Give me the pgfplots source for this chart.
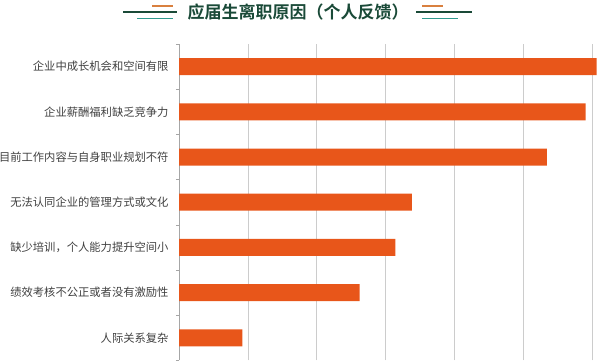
\documentclass[border=0pt]{standalone}
\usepackage{pgfplots}
\pgfplotsset{compat=1.18}
\usepackage{fontspec}
\newfontfamily\cjk{Noto Sans CJK SC}[BoldFont={Noto Sans CJK SC Bold}]
\definecolor{barc}{HTML}{E8561A}
\definecolor{tgreen}{HTML}{1A4A38}
\definecolor{torange}{HTML}{D9803F}
\definecolor{tteal}{HTML}{2E9A8E}
\begin{document}
\begin{tikzpicture}
\useasboundingbox (0,0) rectangle (600bp,-362bp);
% title
\node[font=\cjk\bfseries\fontsize{17bp}{19bp}\selectfont, text=tgreen, inner sep=0pt] at (298bp,-12bp) {应届生离职原因（个人反馈）};
\draw[tgreen, line width=1.6bp] (123bp,-12bp) -- (177bp,-12bp);
\draw[torange, line width=1.3bp] (152bp,-6bp) -- (173bp,-6bp);
\draw[tteal, line width=1.3bp] (137bp,-18.5bp) -- (173bp,-18.5bp);
\draw[tgreen, line width=1.6bp] (416bp,-12bp) -- (472bp,-12bp);
\draw[torange, line width=1.3bp] (422bp,-6bp) -- (443bp,-6bp);
\draw[tteal, line width=1.3bp] (422bp,-18.5bp) -- (458bp,-18.5bp);
\begin{axis}[
  at={(179bp,-44bp)}, anchor=north west,
  x=13.78bp, y=45.2bp,
  xmin=0, xmax=30.6,
  ymin=-0.5, ymax=6.5,
  axis line style={draw=none},
  xtick={5,10,15,20,25,30},
  xticklabels={},
  xtick style={draw=none},
  ytick=\empty,
  xmajorgrids,
  grid style={draw=gray!40, line width=0.7bp},
]
\addplot[draw=none] coordinates {(0,0)};
\end{axis}
\begin{axis}[
  at={(179bp,-44bp)}, anchor=north west,
  x=13.78bp, y=45.2bp,
  xmin=0, xmax=30.6,
  ymin=-0.5, ymax=6.5,
  clip=false,
  axis x line=none,
  axis y line*=left,
  y axis line style={draw=gray!70, line width=0.6bp},
  xbar, bar width=17bp,
  ytick={0,1,2,3,4,5,6},
  yticklabels={人际关系复杂,绩效考核不公正或者没有激励性,缺少培训，个人能力提升空间小,无法认同企业的管理方式或文化,目前工作内容与自身职业规划不符,企业薪酬福利缺乏竞争力,企业中成长机会和空间有限},
  minor ytick={-0.5,0.5,1.5,2.5,3.5,4.5,5.5,6.5},
  ytick style={draw=none},
  minor y tick style={draw=gray!70, line width=0.6bp},
  minor tick length=3bp,
  tick align=outside,
  yticklabel style={font=\cjk\fontsize{11.3bp}{13bp}\selectfont, text=black!75, anchor=east, inner sep=0pt, xshift=-6bp},
]
\addplot[draw=none, fill=barc] coordinates {
 (4.6,0) (13.1,1) (15.7,2) (16.9,3) (26.7,4) (29.5,5) (30.3,6)
};
\end{axis}
\end{tikzpicture}
\end{document}
